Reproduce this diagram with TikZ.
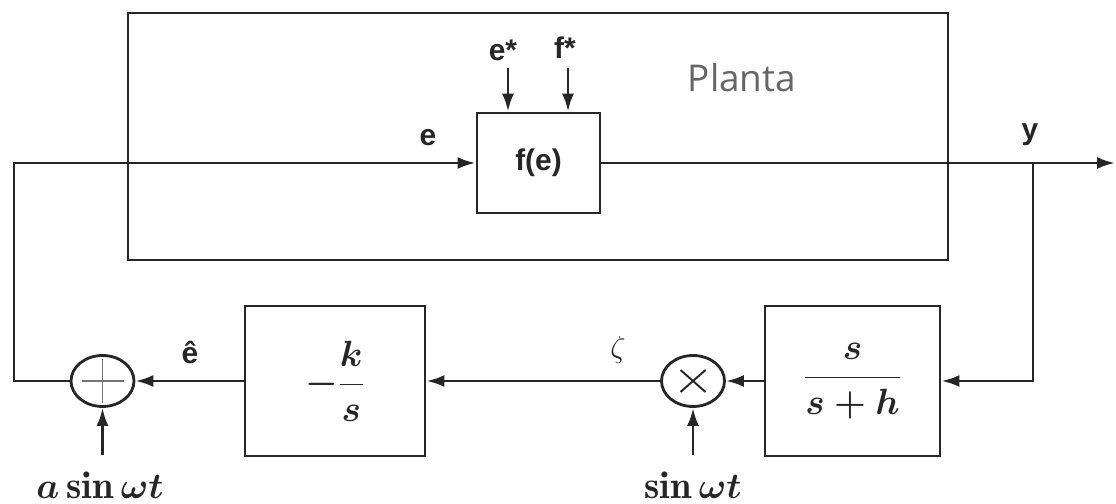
\documentclass[tikz,border=0pt]{standalone}
\usepackage{amsmath}
\usepackage{fontspec}
\setsansfont{Liberation Sans}
\newfontfamily\plantafont{Open Sans}
\usepackage{tikz}
\usetikzlibrary{positioning,arrows.meta,shapes.geometric}

\begin{document}
\begin{tikzpicture}[
  line width=1.6pt, color=black!85,
  >={Latex[length=3.6mm,width=2.4mm]},
  block/.style={draw, rectangle, inner sep=0pt, font=\fontsize{21}{25}\selectfont\boldmath},
  junc/.style={draw, ellipse, minimum width=1.26cm, minimum height=1.02cm, inner sep=0pt},
  sumj/.style={junc, path picture={
    \draw[line width=0.8pt, black!55]
      ([xshift=-0.42cm]path picture bounding box.center) -- ([xshift=0.42cm]path picture bounding box.center)
      ([yshift=-0.44cm]path picture bounding box.center) -- ([yshift=0.44cm]path picture bounding box.center);}},
  multj/.style={junc, path picture={
    \draw[line width=1.1pt]
      ([shift={(-0.25,-0.22)}]path picture bounding box.center) -- ([shift={(0.25,0.22)}]path picture bounding box.center)
      ([shift={(-0.25,0.22)}]path picture bounding box.center) -- ([shift={(0.25,-0.22)}]path picture bounding box.center);}},
  lbl/.style={font=\fontsize{17}{20}\selectfont\sffamily\bfseries, inner sep=0pt},
  mlbl/.style={font=\fontsize{22}{26}\selectfont\boldmath, inner sep=0pt}
]
\useasboundingbox (0,0) rectangle (22.32,10.08);
% Planta and its block
\node[block, minimum width=16.4cm, minimum height=4.94cm] (planta) at (10.76,7.35) {};
\node[block, lbl, minimum width=2.46cm, minimum height=2cm] (fe) at (10.77,6.82) {f(e)};
\node[font=\plantafont\fontsize{21}{25}\selectfont, text=black!60] (plantalbl) at (14.84,8.52) {Planta};
% feedback blocks
\node[block, minimum width=3.6cm, minimum height=3cm] (ks) at (6.7,2.46) {$\displaystyle -\frac{k}{s}$};
\node[block, minimum width=3.5cm, minimum height=3cm] (hp) at (17.05,2.46) {$\displaystyle \frac{s}{s+h}$};
\node[sumj] (sum) at (2.05,2.46) {};
\node[multj] (mult) at (13.86,2.46) {};
% free ends
\coordinate (fbl) at (0.28,6.82);
\coordinate (tap) at (20.66,6.82);
\coordinate (out) at (22.3,6.82);
\coordinate (estar) at (10.16,8.72);
\coordinate (fstar) at (11.36,8.72);
\coordinate (asrc) at (2.05,0.98);
\coordinate (ssrc) at (13.86,0.98);
% connectors
\draw[->] (sum.west) -| (fbl) -- (fe.west);
\draw[->] (fe.east) -- (out);
\draw[->] (estar) -- (fe.north -| estar);
\draw[->] (fstar) -- (fe.north -| fstar);
\draw[->] (tap) |- (hp.east);
\draw[->] (hp.west) -- (mult.east);
\draw[->] (mult.west) -- (ks.east);
\draw[->] (ks.west) -- (sum.east);
\draw[->] (asrc) -- (sum.south);
\draw[->] (ssrc) -- (mult.south);
% labels
\node[lbl] (elbl) at (8.56,7.32) {e};
\node[lbl] (estarlbl) at (10.06,9.08) {e*};
\node[lbl] (fstarlbl) at (11.3,9.12) {f*};
\node[lbl] (ylbl) at (20.6,7.38) {y};
\node[lbl] (ehatlbl) at (3.8,3.04) {ê};
\node[font=\fontsize{18}{21}\selectfont, inner sep=0pt] (zetalbl) at (12.36,3.08) {$\zeta$};
\node[mlbl] (asinlbl) at (2.0,0.38) {$a\sin\omega t$};
\node[mlbl] (sinlbl) at (13.86,0.38) {$\sin\omega t$};
\end{tikzpicture}
\end{document}
